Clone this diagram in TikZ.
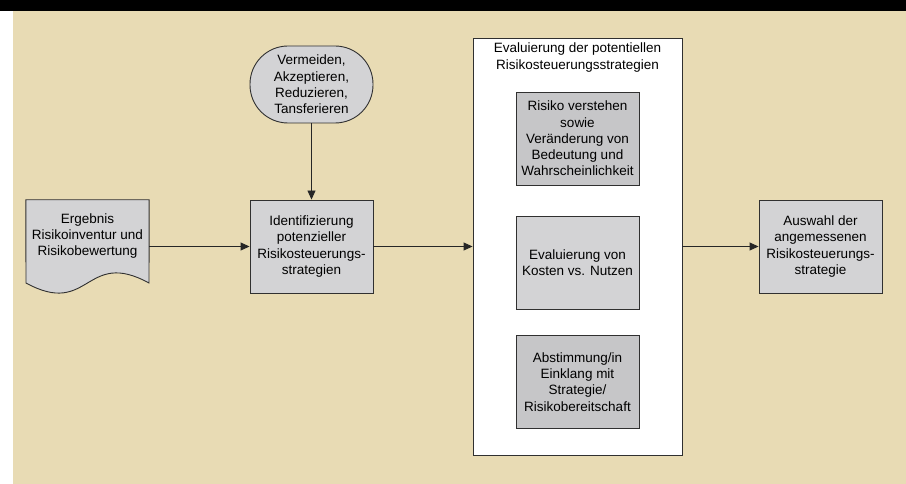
\documentclass[tikz,border=0pt]{standalone}
\usepackage{fontspec}
\setmainfont{Liberation Sans}
\usetikzlibrary{arrows.meta}
\definecolor{bg}{HTML}{E8DBB4}
\definecolor{boxl}{HTML}{D3D3D5}
\definecolor{boxd}{HTML}{C6C6C8}
\definecolor{edge}{HTML}{303030}
\begin{document}
\begin{tikzpicture}[x=1pt,y=-1pt,
  txt/.style={font=\fontsize{13.5}{16.3}\selectfont, text=black, align=center},
  box/.style={txt, draw=edge, line width=0.9pt, minimum width=123pt, minimum height=93pt, inner sep=0pt},
  lbl/.style={txt, inner sep=0pt},
  arr/.style={draw=black!85, line width=0.9pt, -{Triangle[length=9pt,width=8pt]}}]
\useasboundingbox (0,0) rectangle (906,484);
\fill[black] (0,0) rectangle (906,11);
\fill[bg] (13,11) rectangle (906,484);
% document shape
\node[draw=none, minimum width=123pt, minimum height=93pt, inner sep=0pt] (doc) at (87.5,246.5) {};
\filldraw[fill=boxl, draw=edge, line width=0.9pt] (doc.north west) -- (doc.north east) -- (149,283)
  .. controls (85,248) and (90,318) .. (26,283) -- cycle;
\node[lbl] (doct) at (87.5,236) {Ergebnis\\Risikoinventur und\\Risikobewertung};
% other nodes
\node[box, fill=boxl, rounded corners=38pt, minimum height=77pt] (term) at (311.5,84.5) {Vermeiden,\\Akzeptieren,\\Reduzieren,\\Tansferieren};
\node[box, fill=boxl] (ident) at (311.5,246.5) {Identifizierung\\potenzieller\\Risikosteuerungs-\\strategien};
\node[box, fill=white, minimum width=209pt, minimum height=417pt] (eval) at (577.5,246.5) {};
\node[lbl] (evt) at (577.5,57.5) {Evaluierung der potentiellen\\Risikosteuerungsstrategien};
\node[box, fill=boxd] (e1) at (577.5,138.5) {Risiko verstehen\\sowie\\Veränderung von\\Bedeutung und\\Wahrscheinlichkeit};
\node[box, fill=boxl] (e2) at (577.5,262.5) {Evaluierung von\\Kosten vs. Nutzen};
\node[box, fill=boxd] (e3) at (577.5,382) {Abstimmung/in\\Einklang mit\\Strategie/\\Risikobereitschaft};
\node[box, fill=boxl] (final) at (820.5,246.5) {Auswahl der\\angemessenen\\Risikosteuerungs-\\strategie};
% connectors
\draw[arr] (term) -- (ident);
\draw[arr] (doc.east) -- (ident.west);
\draw[arr] (ident) -- (eval);
\draw[arr] (eval) -- (final);
\end{tikzpicture}
\end{document}
